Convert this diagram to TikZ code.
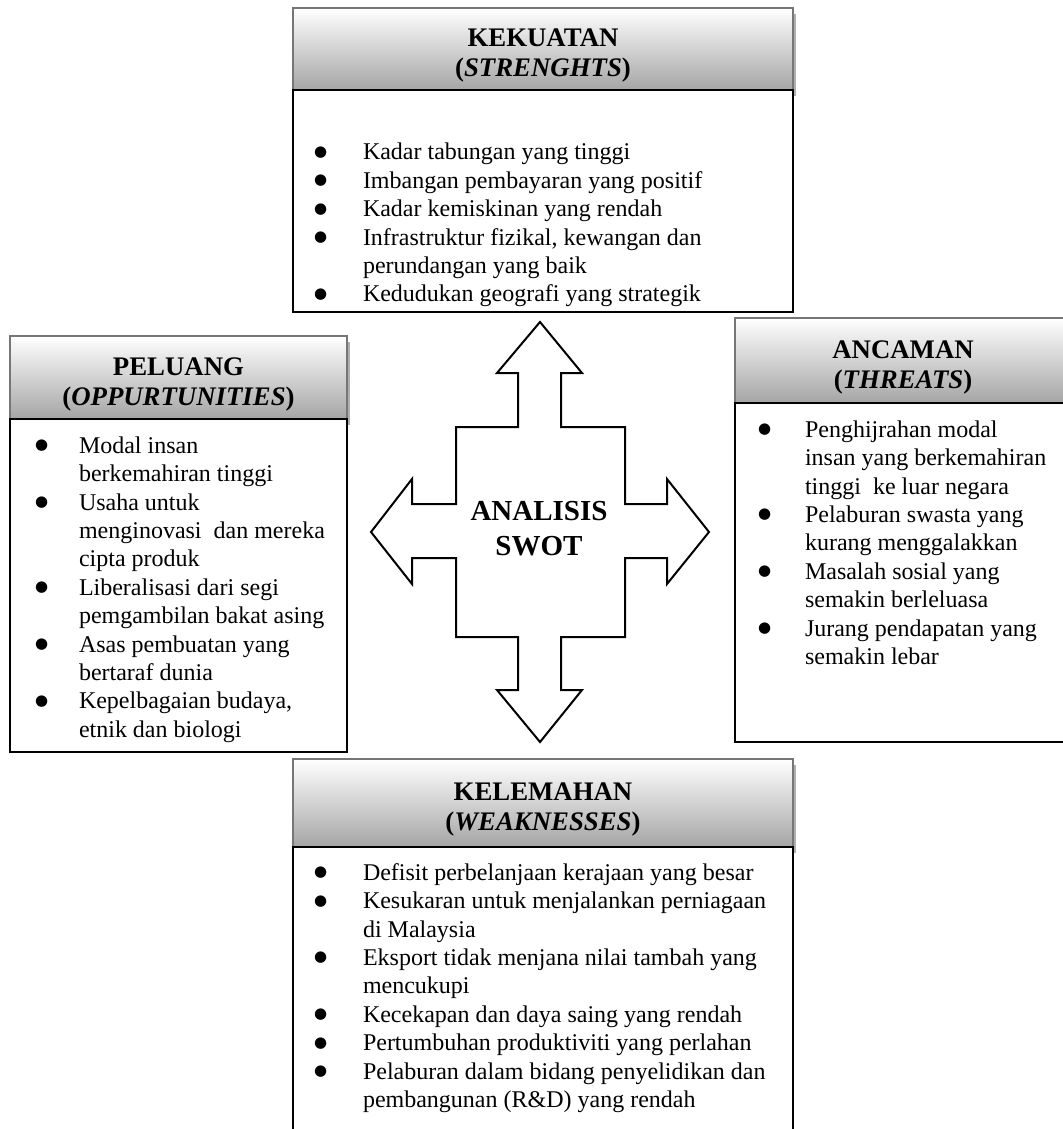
\documentclass[tikz,border=0pt]{standalone}
\usepackage{fontspec}
\setmainfont{Liberation Serif}
\newfontfamily\dotfont{DejaVu Sans}
\usepackage{tikz}
\usetikzlibrary{positioning, shadows}
\definecolor{color_frame}{RGB}{118,118,118}
\definecolor{color_shade}{RGB}{165,165,165}
\definecolor{color_shadow}{RGB}{175,175,175}
\newcommand{\swotdot}{\raisebox{1.8pt}{\dotfont\fontsize{7.5}{8}\selectfont ●}}
\newcommand{\swottitle}[2]{\rule{0pt}{15.5pt}#1\\(\textit{#2})}
\newenvironment{swotlist}[1]{\begin{tabular}{@{}p{#1}@{}l@{}}}{\end{tabular}}

\begin{document}
\begin{tikzpicture}[x=0.5pt, y=-0.5pt,
	font=\fontsize{12}{14.2}\selectfont,
	swothead/.style={draw=color_frame, line width=1.2pt, top color=white, bottom color=color_shade,
		general shadow={fill=color_shadow, shadow xshift=1.5pt, shadow yshift=-3pt},
		minimum width=250pt, inner sep=0pt, outer sep=0pt, align=center, anchor=north west,
		font=\fontsize{13.4}{15}\selectfont\bfseries},
	swotbody/.style={draw=black, line width=0.9pt, fill=white, minimum width=250pt,
		inner sep=0pt, outer sep=0pt, below=0pt of #1},
	swottext/.style={inner sep=0pt, outer sep=0pt},
	swotarrow/.style={draw=black, line width=1pt, fill=white, line join=miter}]
	\useasboundingbox (0,0) rectangle (1063,1129);
	\clip (0,0) rectangle (1063,1129);
	% KEKUATAN
	\node[swothead, minimum height=41pt] (kekuatan_head) at (293,8) {\swottitle{KEKUATAN}{STRENGHTS}};
	\node[swotbody=kekuatan_head, minimum height=111pt] (kekuatan_body) {};
	\node[swottext, below right=25pt and 10.5pt of kekuatan_body.north west] (kekuatan_list) {%
		\begin{swotlist}{24.5pt}
		\swotdot & Kadar tabungan yang tinggi\\
		\swotdot & Imbangan pembayaran yang positif\\
		\swotdot & Kadar kemiskinan yang rendah\\
		\swotdot & Infrastruktur fizikal, kewangan dan\\
		         & perundangan yang baik\\
		\swotdot & Kedudukan geografi yang strategik
		\end{swotlist}};
	% PELUANG
	\node[swothead, minimum width=168.5pt, minimum height=41.5pt] (peluang_head) at (10,336) {\swottitle{PELUANG}{OPPURTUNITIES}};
	\node[swotbody=peluang_head, minimum width=168.5pt, minimum height=166.5pt] (peluang_body) {};
	\node[swottext, below right=7.2pt and 12.5pt of peluang_body.north west] (peluang_list) {%
		\begin{swotlist}{22pt}
		\swotdot & Modal insan\\
		         & berkemahiran tinggi\\
		\swotdot & Usaha untuk\\
		         & menginovasi~ dan mereka\\
		         & cipta produk\\
		\swotdot & Liberalisasi dari segi\\
		         & pemgambilan bakat asing\\
		\swotdot & Asas pembuatan yang\\
		         & bertaraf dunia\\
		\swotdot & Kepelbagaian budaya,\\
		         & etnik dan biologi
		\end{swotlist}};
	% ANCAMAN
	\node[swothead, minimum width=168pt, minimum height=42.5pt] (ancaman_head) at (735,318) {\swottitle{ANCAMAN}{THREATS}};
	\node[swotbody=ancaman_head, minimum width=168pt, minimum height=169.5pt] (ancaman_body) {};
	\node[swottext, below right=7.2pt and 11.5pt of ancaman_body.north west] (ancaman_list) {%
		\begin{swotlist}{23.5pt}
		\swotdot & Penghijrahan modal\\
		         & insan yang berkemahiran\\
		         & tinggi~ ke luar negara\\
		\swotdot & Pelaburan swasta yang\\
		         & kurang menggalakkan\\
		\swotdot & Masalah sosial yang\\
		         & semakin berleluasa\\
		\swotdot & Jurang pendapatan yang\\
		         & semakin lebar
		\end{swotlist}};
	% KELEMAHAN
	\node[swothead, minimum height=44pt] (kelemahan_head) at (293,759) {\swottitle{KELEMAHAN}{WEAKNESSES}};
	\node[swotbody=kelemahan_head, minimum height=146.5pt] (kelemahan_body) {};
	\node[swottext, below right=6.7pt and 10.5pt of kelemahan_body.north west] (kelemahan_list) {%
		\begin{swotlist}{24.5pt}
		\swotdot & Defisit perbelanjaan kerajaan yang besar\\
		\swotdot & Kesukaran untuk menjalankan perniagaan\\
		         & di Malaysia\\
		\swotdot & Eksport tidak menjana nilai tambah yang\\
		         & mencukupi\\
		\swotdot & Kecekapan dan daya saing yang rendah\\
		\swotdot & Pertumbuhan produktiviti yang perlahan\\
		\swotdot & Pelaburan dalam bidang penyelidikan dan\\
		         & pembangunan (R\&D) yang rendah
		\end{swotlist}};
	% ANALISIS SWOT
	\draw[swotarrow] (540,322) -- (582,373) -- (561,373) -- (561,427) -- (625,427) -- (625,504)
		-- (667,504) -- (667,479) -- (709,532) -- (667,584) -- (667,558) -- (625,558)
		-- (625,637) -- (561,637) -- (561,690) -- (582,690) -- (540,742) -- (497,690)
		-- (518,690) -- (518,637) -- (456,637) -- (456,558) -- (412,558) -- (412,584)
		-- (371,532) -- (412,479) -- (412,504) -- (456,504) -- (456,427) -- (518,427)
		-- (518,373) -- (497,373) -- cycle;
	\node[font=\fontsize{14.5}{17.5}\selectfont\bfseries, align=center, inner sep=0pt] (analisis) at (539,529) {ANALISIS\\SWOT};
\end{tikzpicture}
\end{document}
